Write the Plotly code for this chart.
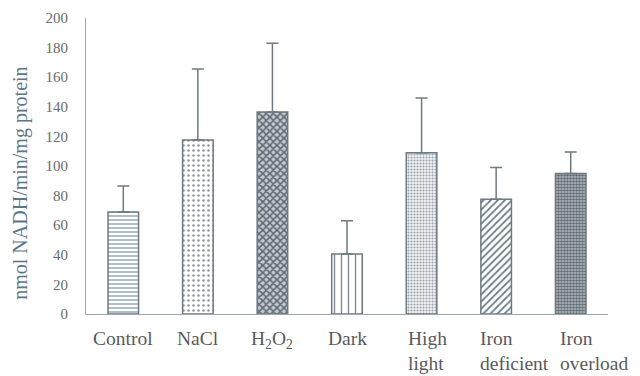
import plotly.graph_objects as go

categories = ["Control", "NaCl", "H<sub>2</sub>O<sub>2</sub>", "Dark", "High<br>light", "Iron<br>deficient", "Iron<br>overload"]
means = [69, 117.5, 136.5, 40.5, 109, 77.5, 95]
errors = [17.5, 48, 46.5, 22.5, 37, 21.5, 14.5]
y_ticks = [0, 20, 40, 60, 80, 100, 120, 140, 160, 180, 200]
y_title = "nmol NADH/min/mg protein"

BAR_W = 0.41
label_dx = [0, 0, 0, 0, 0, -3, 3]
shapes = ["-", ".", "x", "|", ".", "/", "."]
sizes = [4, 5, 5, 7, 3, 5, 3]
solid = [0.3, 0.2, 0.55, 0.2, 0.4, 0.35, 0.55]
fg = ["#7a92a6", "#8e98a0", "#5f6b74", "#7e8a94", "#9aa3aa", "#6f7f8c", "#5f6b74"]
bg = ["#ffffff", "#ffffff", "#c4cace", "#ffffff", "#f2f3f4", "#ffffff", "#b9bfc4"]

fig = go.Figure()
xs = list(range(len(categories)))
for i in xs:
    fig.add_trace(go.Bar(
        x=[i], y=[means[i]],
        width=BAR_W,
        marker=dict(
            color=bg[i],
            line=dict(color="#6e7a80", width=1.5),
            pattern=dict(shape=shapes[i], size=sizes[i], solidity=solid[i], fgcolor=fg[i],
                         fgopacity=1, fillmode="overlay"),
        ),
        error_y=dict(type="data", symmetric=False, array=[errors[i]], arrayminus=[0],
                     color="#6e7a80", thickness=1.5, width=6),
        showlegend=False,
    ))

for i, c in enumerate(categories):
    multi = "<br>" in c
    fig.add_annotation(x=(i - BAR_W / 2) if multi else i, y=0, xref="x", yref="paper",
                       yanchor="top", xanchor="left" if multi else "center",
                       xshift=label_dx[i], yshift=-12, text=c, showarrow=False, align="left",
                       font=dict(family="Liberation Serif", size=19.5, color="#5a5a5a"))

fig.add_annotation(x=0, y=0.44, xref="paper", yref="paper", xanchor="center", yanchor="middle",
                   xshift=-65, textangle=-90, text=y_title, showarrow=False,
                   font=dict(family="Liberation Serif", size=20, color="#5b7688"))

fig.update_layout(
    width=640, height=376,
    margin=dict(l=78, r=40, t=10, b=70),
    paper_bgcolor="white", plot_bgcolor="white",
    barmode="overlay",
    font=dict(family="Liberation Serif", size=15, color="#666666"),
    xaxis=dict(range=[-0.5, 6.5], showticklabels=False, showline=True, linecolor="#9aa8b4",
               linewidth=1.2, ticks="", showgrid=False, zeroline=False, automargin=False),
    yaxis=dict(range=[0, 200], tickvals=y_ticks, showline=True, linecolor="#9aa8b4", linewidth=1.2,
               ticks="outside", ticklen=0, ticklabelstandoff=14, showgrid=False, zeroline=False,
               automargin=False,
               tickfont=dict(family="Liberation Serif", size=15, color="#6a6a6a")),
)

fig.write_html("out.html")
